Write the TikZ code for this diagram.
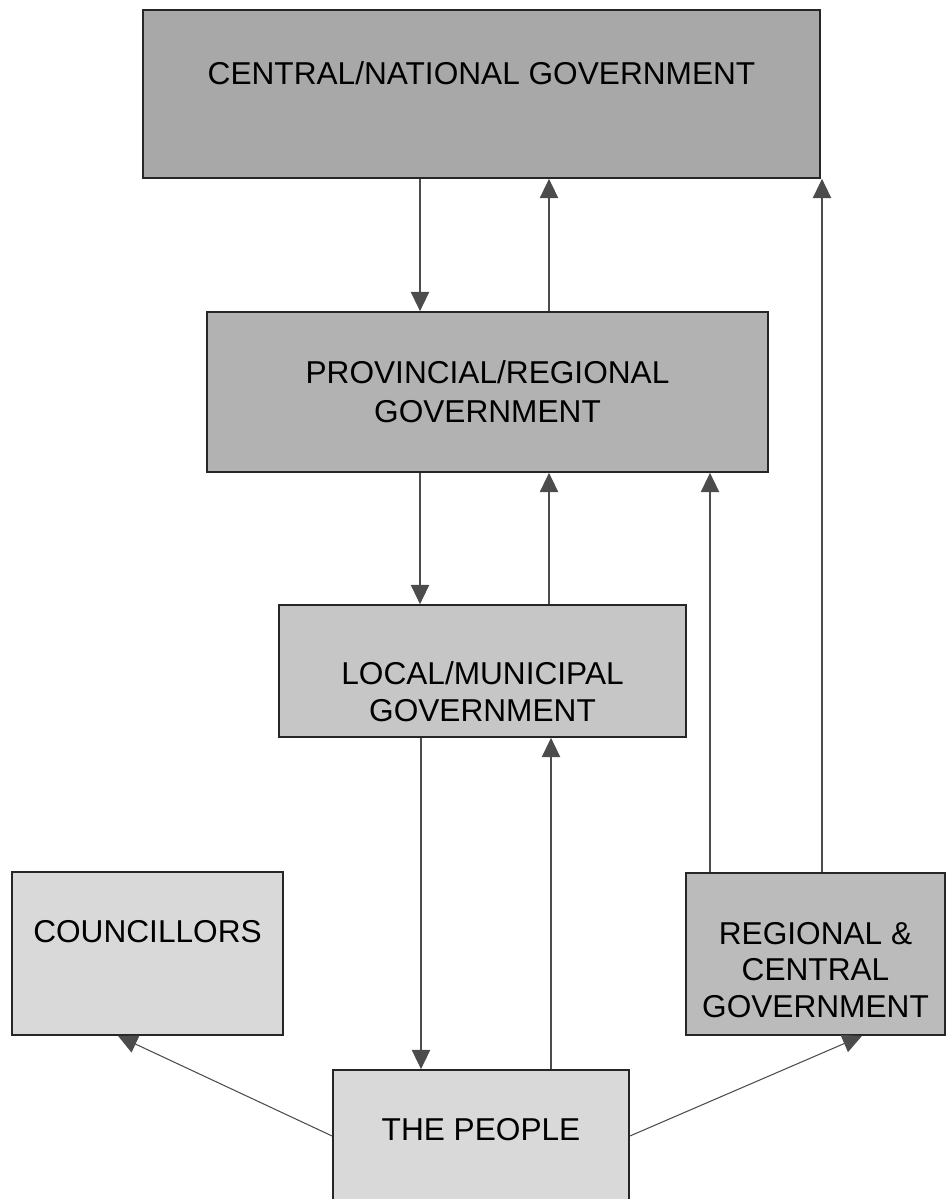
\documentclass[tikz,border=0pt]{standalone}
\usepackage{fontspec}
\setmainfont{Liberation Sans}
\usetikzlibrary{positioning, arrows.meta, calc}
\definecolor{CentralGrey}{HTML}{A8A8A8}
\definecolor{ProvGrey}{HTML}{B2B2B2}
\definecolor{LocalGrey}{HTML}{C6C6C6}
\definecolor{RegGrey}{HTML}{BBBBBB}
\definecolor{PeopleGrey}{HTML}{D9D9D9}
\begin{document}
\begin{tikzpicture}[
    x=0.02cm, y=-0.02cm,
    box/.style={rectangle, draw=black!85, line width=1pt, inner sep=0pt,
                align=center, font=\fontsize{18}{22}\selectfont},
    txt/.style={font=\fontsize{18}{21}\selectfont, align=center},
    arr/.style={-{Triangle[length=11pt, width=10.5pt]}, line width=0.6pt, black!70}
]
  \useasboundingbox (0,0) rectangle (949,1199);

  \node[box, fill=CentralGrey, minimum width=677*0.02cm, minimum height=168*0.02cm,
        label={[txt, yshift=21*0.02cm]center:CENTRAL/NATIONAL GOVERNMENT}]
        (central) at (481.5,94) {};
  \node[box, fill=ProvGrey, minimum width=561*0.02cm, minimum height=160*0.02cm]
        (prov) at (487.5,392) {PROVINCIAL/REGIONAL\\GOVERNMENT};
  \node[box, fill=LocalGrey, minimum width=407*0.02cm, minimum height=132*0.02cm,
        label={[txt, yshift=-21*0.02cm]center:LOCAL/MUNICIPAL\\GOVERNMENT}]
        (local) at (482.5,671) {};
  \node[box, fill=PeopleGrey, minimum width=271*0.02cm, minimum height=163*0.02cm,
        label={[txt, yshift=22*0.02cm]center:COUNCILLORS}]
        (coun) at (147.5,953.5) {};
  \node[box, fill=RegGrey, minimum width=259*0.02cm, minimum height=162*0.02cm,
        label={[txt, yshift=-16*0.02cm]center:REGIONAL \&\\CENTRAL\\GOVERNMENT}]
        (regc) at (815.5,954) {};
  \node[box, fill=PeopleGrey, minimum width=296*0.02cm, minimum height=132*0.02cm,
        label={[txt, yshift=6*0.02cm]center:THE PEOPLE}]
        (people) at (481,1136) {};

  % downward links
  \draw[arr] (central.south -| 420,0) -- (prov.north -| 420,0);
  \draw[arr] (prov.south -| 420,0) -- (local.north -| 420,0);
  \draw[arr] (local.south -| 421,0) -- (people.north -| 421,0);

  % upward links
  \draw[arr] (prov.north -| 549,0) -- (central.south -| 549,0);
  \draw[arr] (local.north -| 549,0) -- (prov.south -| 549,0);
  \draw[arr] (people.north -| 551,0) -- (local.south -| 551,0);
  \draw[arr] (regc.north -| 710,0) -- (prov.south -| 710,0);
  \draw[arr] (regc.north -| 822,0) -- (central.south -| 822,0);

  % from the people
  \draw[arr] (people.west) -- (coun.south -| 118,0);
  \draw[arr] (people.east) -- (regc.south -| 862,0);
\end{tikzpicture}
\end{document}
